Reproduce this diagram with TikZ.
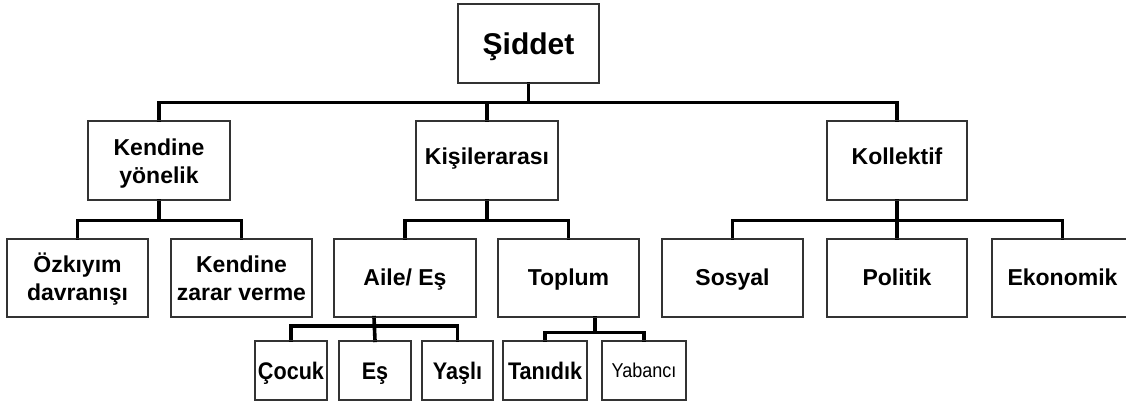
\documentclass[tikz,border=0pt]{standalone}
\usepackage{fontspec}
\setmainfont{Liberation Sans}
\newfontfamily\condfont[FakeStretch=0.9]{Liberation Sans}
\tikzset{
  box/.style={draw=black!80, line width=1.2pt, fill=white, rectangle, inner sep=0pt, align=center, text=black, font=\bfseries\fontsize{23}{28}\selectfont},
  lone/.style={box, minimum width=141pt, minimum height=79pt, text height=17pt, text depth=9pt},
  ltwo/.style={box, minimum width=141pt, minimum height=78pt, text height=17pt, text depth=3pt},
  twoline/.style={text height=45pt, text depth=0pt},
  lthree/.style={box, minimum height=59pt, text height=18pt, text depth=1pt, font=\condfont\bfseries\fontsize{24}{28}\selectfont},
  conn/.style={line width=3.6pt, black, line join=miter, line cap=rect}
}
\begin{document}
\begin{tikzpicture}[x=1pt,y=-1pt]
\useasboundingbox (0,0) rectangle (1126,405);
\clip (0,0) rectangle (1126,405);
\fill[white] (0,0) rectangle (1126,405);
% level 0
\node[lone, text height=22pt, text depth=0pt, font=\bfseries\fontsize{30}{34}\selectfont] (sid) at (528.5,43.5) {Şiddet};
% level 1
\node[lone, twoline, minimum width=142pt] (kend) at (159,160.5) {Kendine\\yönelik};
\node[lone, minimum width=142pt] (kisi) at (487,160.5) {Kişilerarası};
\node[lone, minimum width=140pt] (koll) at (897,160.5) {Kollektif};
% level 2
\node[ltwo, twoline, text height=44pt] (ozk) at (77.5,278) {Özkıyım\\davranışı};
\node[ltwo, twoline, text height=44pt] (zarar) at (241.5,278) {Kendine\\zarar verme};
\node[ltwo, minimum width=142pt] (aile) at (405,278) {Aile/ Eş};
\node[ltwo] (topl) at (568.5,278) {Toplum};
\node[ltwo] (sos) at (732.5,278) {Sosyal};
\node[ltwo, minimum width=140pt] (pol) at (897,278) {Politik};
\node[ltwo] (eko) at (1062.5,278) {Ekonomik};
% level 3
\node[lthree, minimum width=72pt] (coc) at (291,370.5) {Çocuk};
\node[lthree, minimum width=72pt] (es) at (375,370.5) {Eş};
\node[lthree, minimum width=71pt] (yas) at (457.5,370.5) {Yaşlı};
\node[lthree, minimum width=84pt] (tan) at (545,370.5) {Tanıdık};
\node[lthree, minimum width=84pt, text height=15pt, text depth=1pt, font=\condfont\fontsize{20}{24}\selectfont] (yab) at (644,370.5) {Yabancı};
% connectors level 0 -> 1
\draw[conn] (sid.south) -- ++(0,19) coordinate (b0);
\draw[conn] (kend.north) |- (b0) -| (koll.north);
\draw[conn] (kisi.north) -- (kisi.north |- b0);
% level 1 -> 2
\draw[conn] (kend.south) -- ++(0,20) coordinate (b1);
\draw[conn] (ozk.north) |- (b1) -| (zarar.north);
\draw[conn] (kisi.south) -- ++(0,20) coordinate (b2);
\draw[conn] (aile.north) |- (b2) -| (topl.north);
\draw[conn] (koll.south) -- ++(0,20) coordinate (b3);
\draw[conn] (sos.north) |- (b3) -| (eko.north);
\draw[conn] (pol.north) -- (pol.north |- b3);
% level 2 -> 3
\draw[conn] ([xshift=-31pt]aile.south) -- (es.north) coordinate[pos=0.38] (b4);
\draw[conn] (coc.north) |- (b4) -| (yas.north);
\draw[conn] ([xshift=26.5pt]topl.south) -- ++(0,15) coordinate (b5);
\draw[conn] (tan.north) |- (b5) -| (yab.north);
% redraw box borders above connector ends
\foreach \n in {sid,kend,kisi,koll,ozk,zarar,aile,topl,sos,pol,eko,coc,es,yas,tan,yab}
  \draw[draw=black!80, line width=1.2pt] (\n.south west) rectangle (\n.north east);
\end{tikzpicture}
\end{document}
